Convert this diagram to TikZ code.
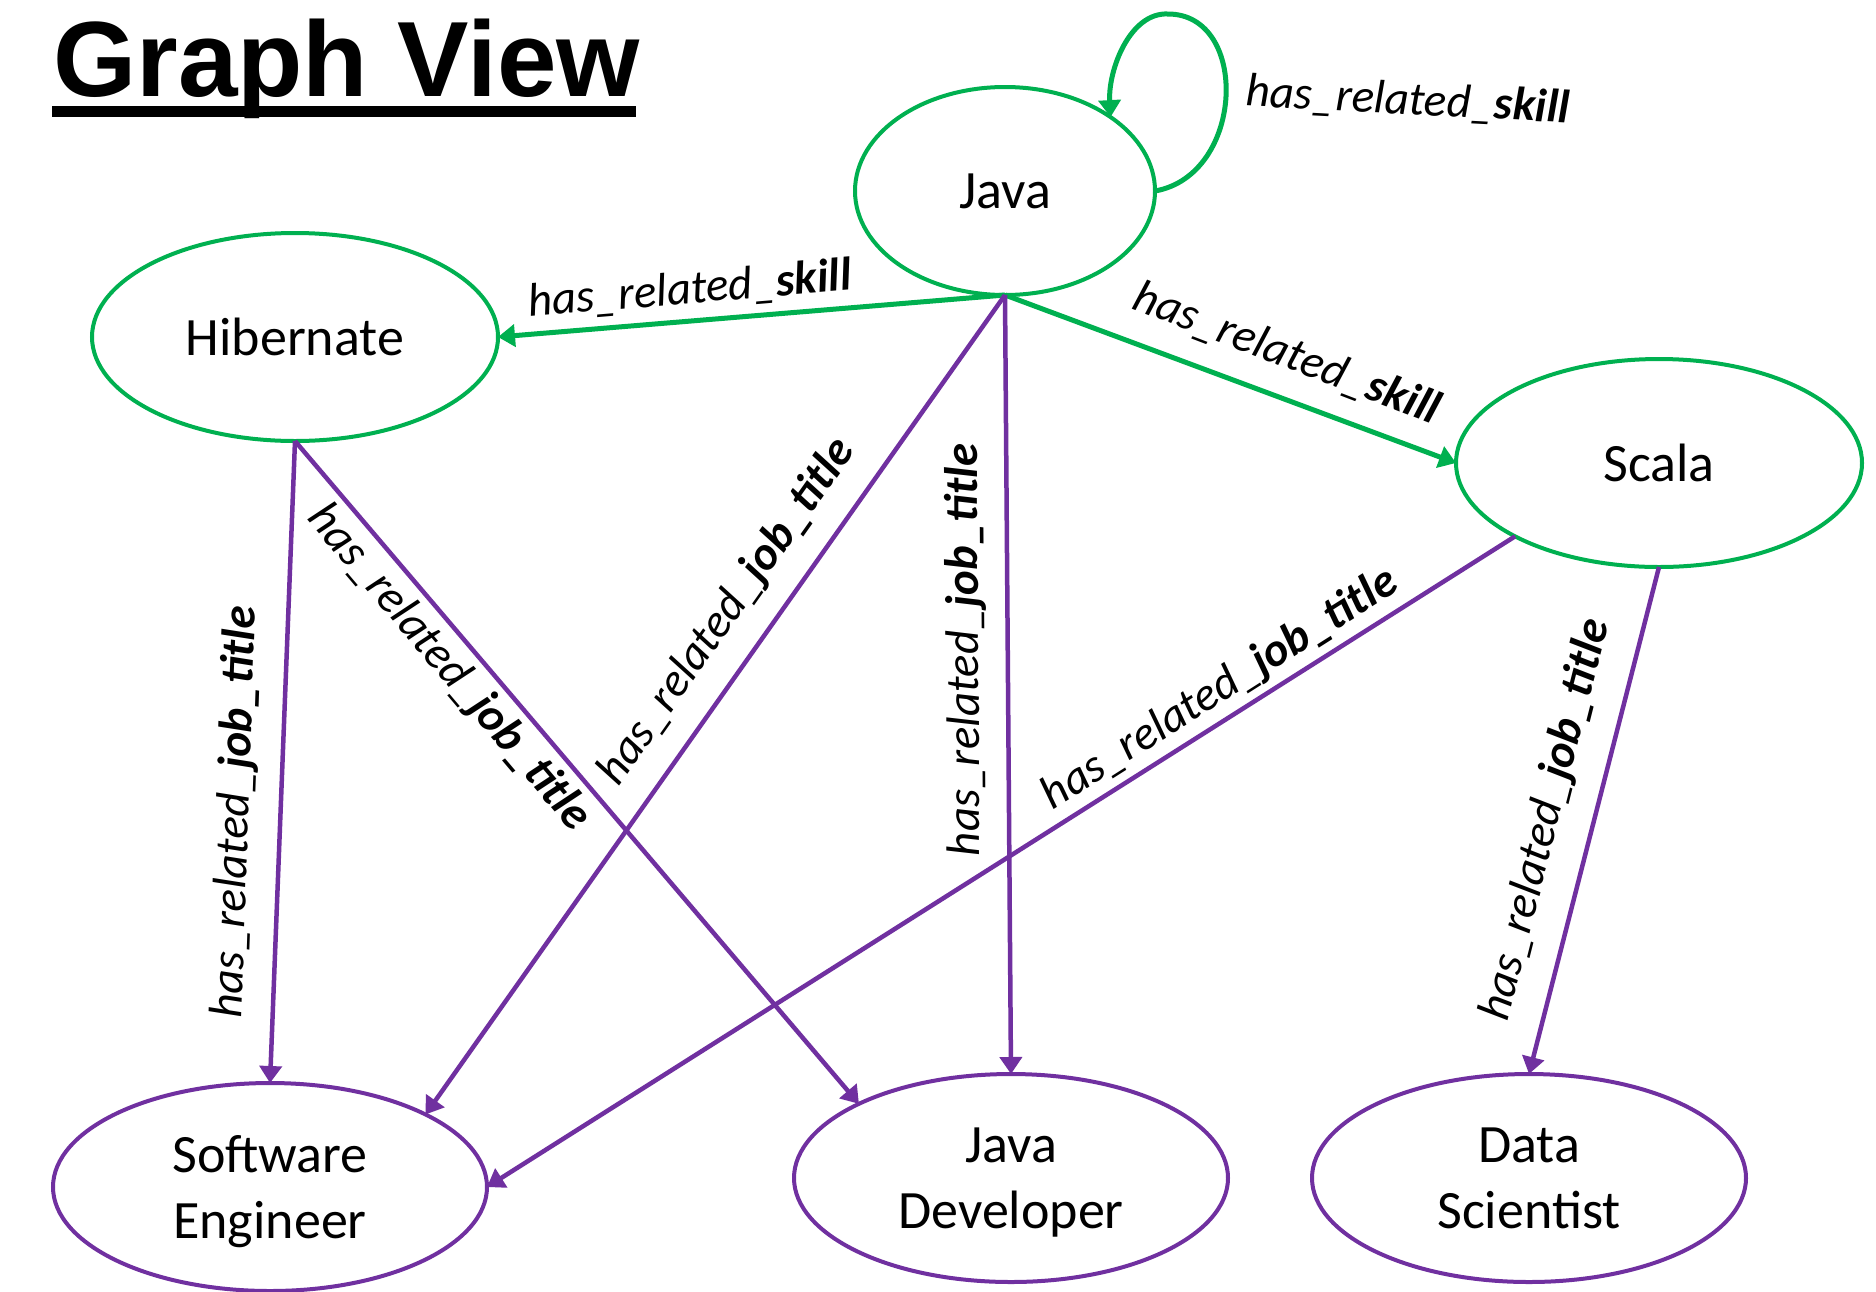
\documentclass[tikz,border=0pt]{standalone}
\usepackage{fontspec}
\setmainfont{Carlito}
\newfontfamily\gvtitlefont{Liberation Sans}
\usetikzlibrary{arrows.meta,shapes.geometric}
\definecolor{skillgreen}{HTML}{00B050}
\definecolor{jobpurple}{HTML}{7030A0}

\begin{document}
\begin{tikzpicture}[x=1pt,y=-1pt,
  entity/.style={ellipse, line width=4pt, inner sep=0pt, outer sep=0pt,
    align=center, font={\fontsize{54}{66}\selectfont}},
  skillnode/.style={entity, draw=skillgreen, minimum width=#1, minimum height=208pt},
  jobnode/.style={entity, draw=jobpurple, minimum width=434pt, minimum height=208pt,
    text depth=0pt},
  tiphead/.style={-{Triangle[length=17pt,width=22pt]}},
  skillarrow/.style={draw=skillgreen, line width=5pt, tiphead},
  jobarrow/.style={draw=jobpurple, line width=4.5pt, tiphead},
  rel/.style={inner sep=0pt, font={\fontsize{47}{56}\selectfont\itshape}}
]
% canvas
\fill[white] (0,0) rectangle (1876,1291);
\useasboundingbox (0,0) rectangle (1876,1291);

% title
\node[anchor=base west, inner sep=0pt, font={\gvtitlefont\bfseries\fontsize{107}{120}\selectfont}]
  (title) at (53,96) {Graph View};
\fill (52,106) rectangle (636,117);

% skills
\node[skillnode=300pt] (java)  at (1005,191) {Java};
\node[skillnode=406pt] (hib)   at (295,337)  {Hibernate};
\node[skillnode=406pt] (scala) at (1659,463) {Scala};

% job titles
\node[jobnode] (se) at (270,1187)  {Software\\Engineer};
\node[jobnode] (jd) at (1011,1178) {Java\\Developer};
\node[jobnode] (ds) at (1529,1178) {Data\\Scientist};

% skill relations
\coordinate (looptop) at (1168,14);
\draw[skillarrow] (java.east) .. controls (1245,175) and (1250,14) .. (looptop)
  .. controls (1130,12) and (1108,70) .. (java.35);
\draw[skillarrow] (java.south) -- (hib.east);
\draw[skillarrow] (java.south) -- (scala.west);

% job title relations
\draw[jobarrow] (hib.south) -- (se.north);
\draw[jobarrow] (hib.south) -- (jd.154);
\draw[jobarrow] (java.south) -- (se.25);
\draw[jobarrow] (java.south) -- (jd.north);
\draw[jobarrow] (scala.207.5) -- (se.east);
\draw[jobarrow] (scala.south) -- (ds.north);

% relation labels
\node[rel, rotate=-3]    (lloop)  at (1408,101) {has\_related\_\textbf{skill}};
\node[rel, rotate=4.8]   (lhib)   at (690,290)  {has\_related\_\textbf{skill}};
\node[rel, rotate=-21]   (lscala) at (1287,354) {has\_related\_\textbf{skill}};
\node[rel, rotate=88]    (lhse)   at (236,812)  {has\_related\_\textbf{job\_title}};
\node[rel, rotate=-49.7] (lhjd)   at (449,668)  {has\_related\_\textbf{job\_title}};
\node[rel, rotate=54.7]  (ljse)   at (727,612)  {has\_related\_\textbf{job\_title}};
\node[rel, rotate=90.4]  (ljjd)   at (966,650)  {has\_related\_\textbf{job\_title}};
\node[rel, rotate=32.4]  (lsse)   at (1220,689) {has\_related\_\textbf{job\_title}};
\node[rel, rotate=75.8]  (lsds)   at (1546,820) {has\_related\_\textbf{job\_title}};
\end{tikzpicture}
\end{document}
